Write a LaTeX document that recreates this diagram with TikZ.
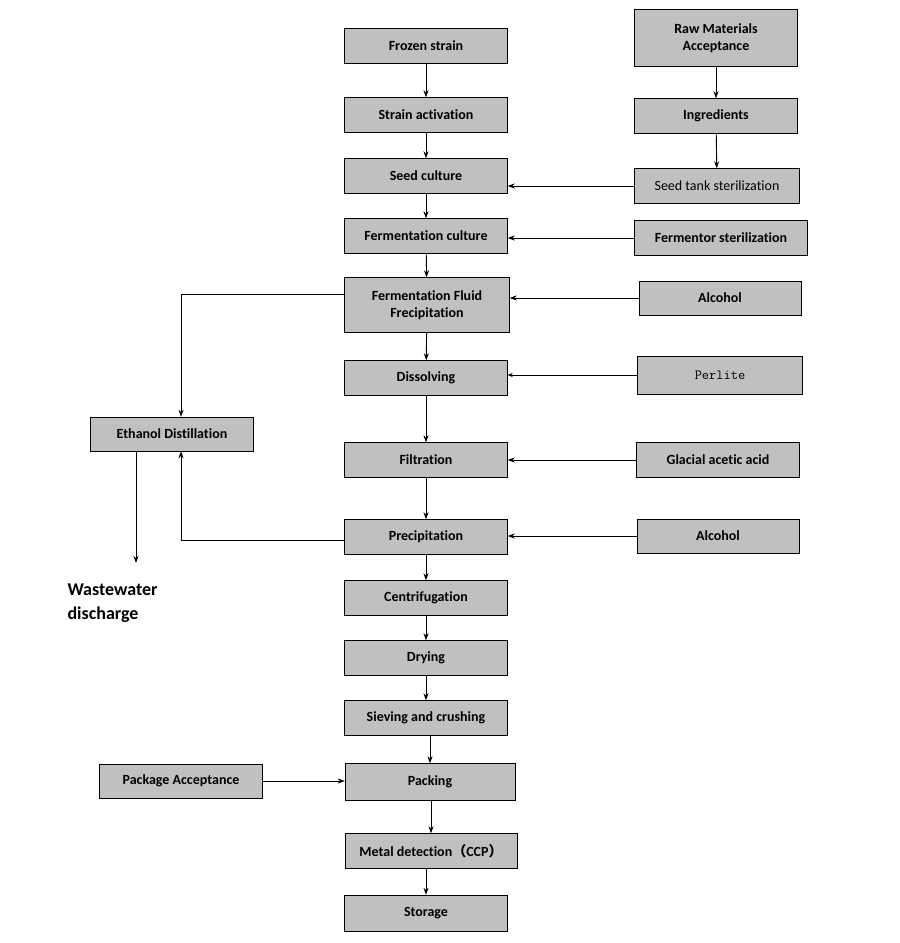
\documentclass[tikz,border=0pt]{standalone}
\usepackage{fontspec}
\setmainfont{Carlito}[Ligatures=NoCommon]
\newfontfamily\cjk{Noto Sans CJK SC}
\usetikzlibrary{arrows.meta}
\tikzset{
  stage/.style={draw, fill={rgb,255:red,192;green,192;blue,192}, minimum width=163pt, minimum height=35pt, inner sep=1pt, align=center, font=\fontsize{14}{17}\selectfont\bfseries},
  flow/.style={-{Stealth[length=7pt,width=5pt]}, line width=0.9pt},
}
\begin{document}
\begin{tikzpicture}[x=1pt,y=-1pt]
\useasboundingbox (0,0) rectangle (900,943);

% main line
\node[stage] (frozen) at (426,46) {Frozen strain};
\node[stage] (activ) at (426,115) {Strain activation};
\node[stage] (seed) at (426,176) {Seed culture};
\node[stage] (ferm) at (426,236) {Fermentation culture};
\node[stage, minimum width=165pt, minimum height=55pt] (fluid) at (427,305) {Fermentation Fluid\\Frecipitation};
\node[stage] (dissolve) at (426,378) {Dissolving};
\node[stage] (filter) at (426,460) {Filtration};
\node[stage] (precip) at (426,537) {Precipitation};
\node[stage] (centri) at (426,598) {Centrifugation};
\node[stage] (dry) at (426,658) {Drying};
\node[stage] (sieve) at (426,718) {Sieving and crushing};
\node[stage, minimum width=170pt, minimum height=37pt] (pack) at (430,782) {Packing};
\node[stage, minimum width=172pt] (metal) at (431,851) {Metal detection{\cjk（}CCP{\cjk）}};
\node[stage, minimum height=36pt] (store) at (426,913) {Storage};

% right side
\node[stage, minimum height=57pt] (raw) at (716,38) {Raw Materials\\Acceptance};
\node[stage] (ingr) at (716,116) {Ingredients};
\node[stage, minimum width=165pt, font=\fontsize{14}{17}\selectfont] (tank) at (717,186) {Seed tank sterilization};
\node[stage, minimum width=173pt] (fster) at (721,238) {Fermentor sterilization};
\node[stage, minimum width=162pt, minimum height=34pt] (alc1) at (720,298) {Alcohol};
\node[stage, minimum width=165pt, minimum height=38pt, font=\fontsize{14}{17}\ttfamily] (perlite) at (720,375) {Perlite};
\node[stage] (acid) at (718,460) {Glacial acetic acid};
\node[stage, minimum width=162pt, minimum height=34pt] (alc2) at (718,536) {Alcohol};

% left side
\node[stage, minimum height=34pt] (ethanol) at (172,434) {Ethanol Distillation};
\node[stage, minimum height=34pt] (pkgacc) at (181,781) {Package Acceptance};
\node[anchor=north west, align=left, font=\fontsize{18}{24}\selectfont\bfseries] (waste) at (64,580) {Wastewater\\discharge};
\coordinate (wtop) at (136,563);

% connectors
\foreach \a/\b in {frozen/activ, activ/seed, seed/ferm, ferm/fluid, fluid/dissolve, dissolve/filter, filter/precip, precip/centri, centri/dry, dry/sieve, raw/ingr, ingr/tank}
  \draw[flow] (\a) -- (\b);
\foreach \a/\b in {sieve/pack, pack/metal, metal/store}
  \draw[flow] (\a.south -| \b) -- (\b.north);
\foreach \a/\b in {tank/seed, fster/ferm, alc1/fluid, acid/filter, alc2/precip}
  \draw[flow] (\a.west) -- (\a.west -| \b.east);
\draw[flow] (pkgacc.east) -- (pkgacc.east -| pack.west);
\draw[-{Stealth[length=5pt,width=4pt]}, line width=0.5pt] (perlite.west) -- (perlite.west -| dissolve.east);
\draw[flow] (fluid.west |- 0,294) -| (ethanol.north -| 181,0);
\draw[flow] (precip.west |- 0,540) -| (ethanol.south -| 181,0);
\draw[flow] (ethanol.south -| wtop) -- (wtop);
\end{tikzpicture}
\end{document}
